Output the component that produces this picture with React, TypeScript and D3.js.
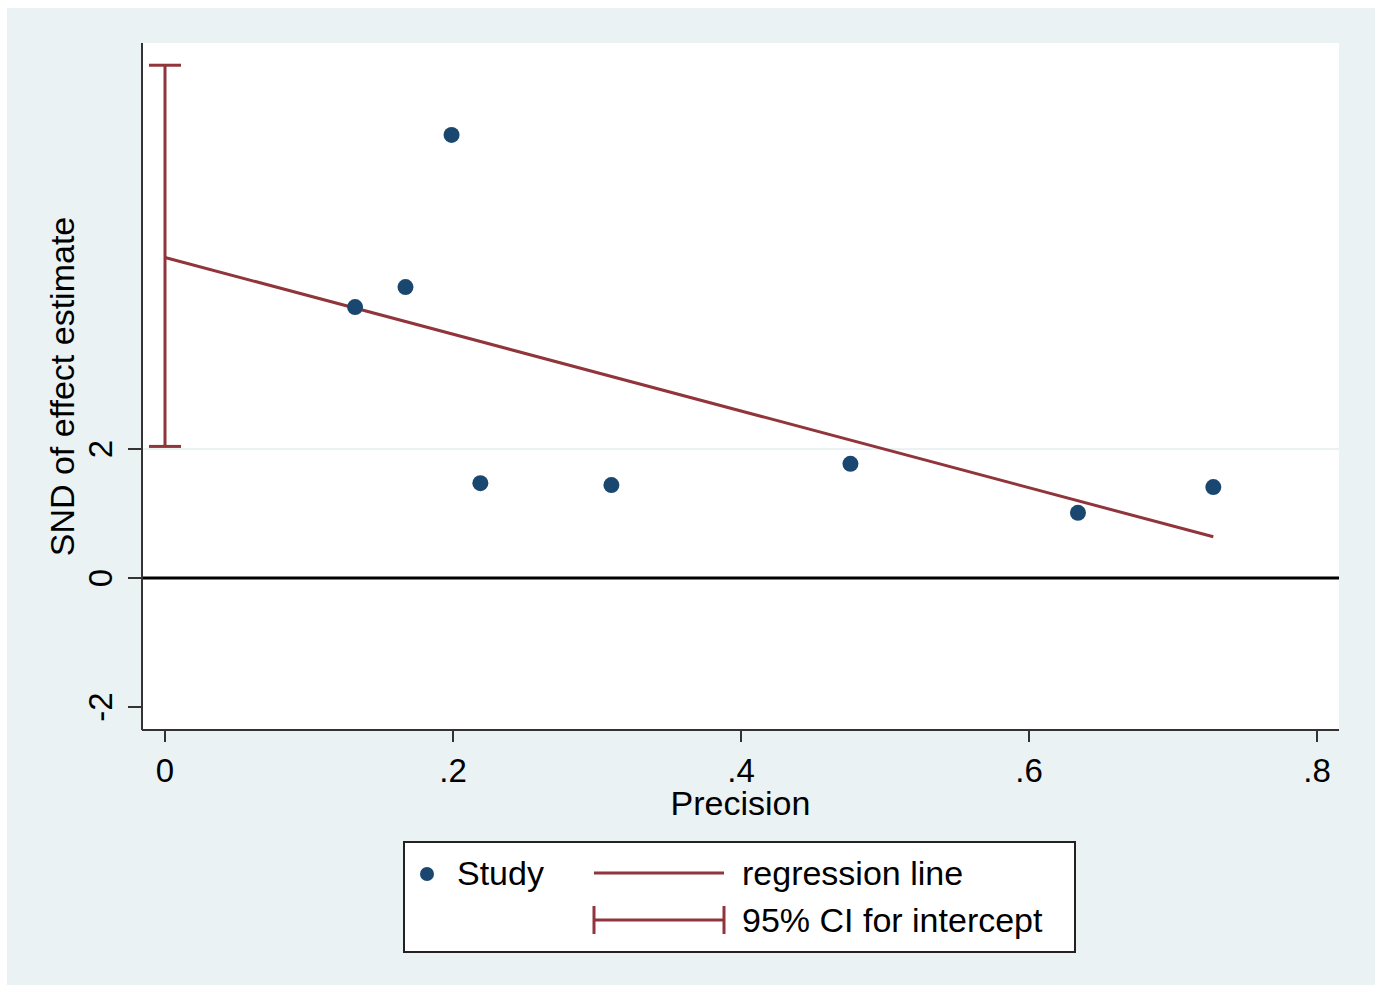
import { useEffect, useRef } from 'react';
import * as d3 from 'd3';

const WIDTH = 1375;
const HEIGHT = 985;
const PLOT = { left: 142, right: 1339, top: 43, bottom: 730 };

const precision = [0.132, 0.167, 0.199, 0.219, 0.310, 0.476, 0.634, 0.728];
const snd = [4.2, 4.51, 6.87, 1.47, 1.44, 1.77, 1.01, 1.41];
const regIntercept = 4.97;
const regSlope = -5.95;
const regXEnd = 0.728;
const ciIntercept = [2.04, 7.95];
const xTicks = [0, 0.2, 0.4, 0.6, 0.8];
const xTickLabels = ['0', '.2', '.4', '.6', '.8'];
const yTicks = [-2, 0, 2];
const yTickLabels = ['-2', '0', '2'];

const NAVY = '#1a476f';
const MAROON = '#90353b';
const BG = '#eaf2f3';
const FONT = "'Liberation Sans', Arial, sans-serif";
const TICK_FONT = '33px';
const LABEL_FONT = '34px';

const EggerPlot = () => {
  const svgRef = useRef<SVGSVGElement>(null);

  useEffect(() => {
    if (!svgRef.current) return;
    const svg = d3.select(svgRef.current);
    svg.selectAll('*').remove();

    const xScale = d3.scaleLinear().domain([0, 0.8]).range([165, 1317]);
    const yScale = d3.scaleLinear().domain([-2, 2]).range([707, 449]);

    // Fundos
    svg.append('rect').attr('x', 0).attr('y', 0).attr('width', WIDTH).attr('height', HEIGHT).attr('fill', '#fff');
    svg.append('rect').attr('x', 7).attr('y', 8).attr('width', WIDTH - 7).attr('height', HEIGHT - 8).attr('fill', BG);
    svg
      .append('rect')
      .attr('x', PLOT.left)
      .attr('y', PLOT.top)
      .attr('width', PLOT.right - PLOT.left)
      .attr('height', PLOT.bottom - PLOT.top)
      .attr('fill', '#fff');

    // Grade em y=2
    svg
      .append('line')
      .attr('x1', PLOT.left)
      .attr('x2', PLOT.right)
      .attr('y1', yScale(2))
      .attr('y2', yScale(2))
      .attr('stroke', BG)
      .attr('stroke-width', 2);

    // Linha zero
    svg
      .append('line')
      .attr('x1', PLOT.left)
      .attr('x2', PLOT.right)
      .attr('y1', yScale(0))
      .attr('y2', yScale(0))
      .attr('stroke', '#000')
      .attr('stroke-width', 3);

    // IC do intercepto
    const ciX = xScale(0);
    const ci = svg.append('g').attr('stroke', MAROON).attr('stroke-width', 3);
    ci.append('line').attr('x1', ciX).attr('x2', ciX).attr('y1', yScale(ciIntercept[0])).attr('y2', yScale(ciIntercept[1]));
    ciIntercept.forEach(v => {
      ci.append('line')
        .attr('x1', ciX - 16)
        .attr('x2', ciX + 16)
        .attr('y1', yScale(v))
        .attr('y2', yScale(v));
    });

    // Reta de regressão
    const regLine = d3
      .line<number>()
      .x(d => xScale(d))
      .y(d => yScale(regIntercept + regSlope * d));
    svg
      .append('path')
      .attr('d', regLine([0, regXEnd]))
      .attr('fill', 'none')
      .attr('stroke', MAROON)
      .attr('stroke-width', 3);

    // Estudos
    svg
      .selectAll('.study')
      .data(precision.map((p, i) => ({ p, s: snd[i] })))
      .join('circle')
      .attr('class', 'study')
      .attr('cx', d => xScale(d.p))
      .attr('cy', d => yScale(d.s))
      .attr('r', 8)
      .attr('fill', NAVY);

    // Eixos
    const axisColor = '#333';
    svg
      .append('line')
      .attr('x1', PLOT.left)
      .attr('x2', PLOT.left)
      .attr('y1', PLOT.top)
      .attr('y2', PLOT.bottom)
      .attr('stroke', axisColor)
      .attr('stroke-width', 2);
    svg
      .append('line')
      .attr('x1', PLOT.left)
      .attr('x2', PLOT.right)
      .attr('y1', PLOT.bottom)
      .attr('y2', PLOT.bottom)
      .attr('stroke', axisColor)
      .attr('stroke-width', 2);

    xTicks.forEach((t, i) => {
      svg
        .append('line')
        .attr('x1', xScale(t))
        .attr('x2', xScale(t))
        .attr('y1', PLOT.bottom)
        .attr('y2', PLOT.bottom + 12)
        .attr('stroke', axisColor)
        .attr('stroke-width', 2);
      svg
        .append('text')
        .attr('x', xScale(t))
        .attr('y', 782)
        .attr('text-anchor', 'middle')
        .style('font-family', FONT)
        .style('font-size', TICK_FONT)
        .style('fill', '#000')
        .text(xTickLabels[i]);
    });

    yTicks.forEach((t, i) => {
      svg
        .append('line')
        .attr('x1', PLOT.left - 14)
        .attr('x2', PLOT.left)
        .attr('y1', yScale(t))
        .attr('y2', yScale(t))
        .attr('stroke', axisColor)
        .attr('stroke-width', 2);
      svg
        .append('text')
        .attr('transform', `translate(112, ${yScale(t)}) rotate(-90)`)
        .attr('text-anchor', 'middle')
        .style('font-family', FONT)
        .style('font-size', TICK_FONT)
        .style('fill', '#000')
        .text(yTickLabels[i]);
    });

    // Títulos dos eixos
    svg
      .append('text')
      .attr('x', (PLOT.left + PLOT.right) / 2)
      .attr('y', 815)
      .attr('text-anchor', 'middle')
      .style('font-family', FONT)
      .style('font-size', LABEL_FONT)
      .style('fill', '#000')
      .text('Precision');

    svg
      .append('text')
      .attr('transform', `translate(74, ${(PLOT.top + PLOT.bottom) / 2}) rotate(-90)`)
      .attr('text-anchor', 'middle')
      .style('font-family', FONT)
      .style('font-size', LABEL_FONT)
      .style('fill', '#000')
      .text('SND of effect estimate');

    // Legenda
    const legend = svg.append('g');
    legend
      .append('rect')
      .attr('x', 404)
      .attr('y', 842)
      .attr('width', 671)
      .attr('height', 110)
      .attr('fill', '#fff')
      .attr('stroke', '#222')
      .attr('stroke-width', 2);
    legend.append('circle').attr('cx', 427).attr('cy', 874).attr('r', 7).attr('fill', NAVY);
    legend
      .append('line')
      .attr('x1', 594)
      .attr('x2', 724)
      .attr('y1', 873)
      .attr('y2', 873)
      .attr('stroke', MAROON)
      .attr('stroke-width', 3);
    const lg = legend.append('g').attr('stroke', MAROON).attr('stroke-width', 3);
    lg.append('line').attr('x1', 594).attr('x2', 724).attr('y1', 920).attr('y2', 920);
    lg.append('line').attr('x1', 594).attr('x2', 594).attr('y1', 906).attr('y2', 934);
    lg.append('line').attr('x1', 724).attr('x2', 724).attr('y1', 906).attr('y2', 934);

    const legendText = [
      { x: 457, y: 885, t: 'Study' },
      { x: 742, y: 885, t: 'regression line' },
      { x: 742, y: 932, t: '95% CI for intercept' },
    ];
    legend
      .selectAll('.leg-text')
      .data(legendText)
      .join('text')
      .attr('class', 'leg-text')
      .attr('x', d => d.x)
      .attr('y', d => d.y)
      .style('font-family', FONT)
      .style('font-size', LABEL_FONT)
      .style('fill', '#000')
      .text(d => d.t);
  }, []);

  return (
    <svg
      ref={svgRef}
      width={WIDTH}
      height={HEIGHT}
      style={{ position: 'absolute', left: 0, top: 0, display: 'block' }}
    />
  );
};

export default function App() {
  return <EggerPlot />;
}
